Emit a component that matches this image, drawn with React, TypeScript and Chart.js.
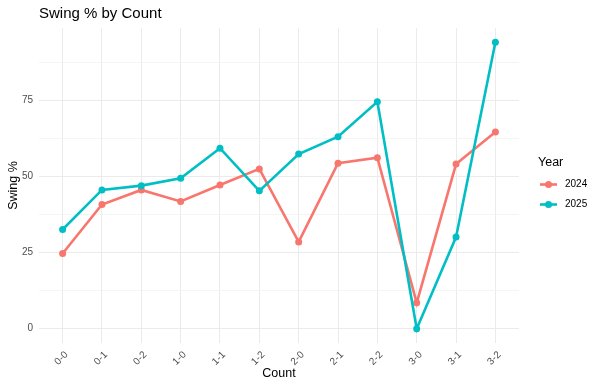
import React, { useEffect, useRef } from "react";
import { Chart, registerables } from "chart.js";

Chart.register(...registerables);

const categories = ["0-0", "0-1", "0-2", "1-0", "1-1", "1-2", "2-0", "2-1", "2-2", "3-0", "3-1", "3-2"];
const swing2024 = [24.7, 40.8, 45.6, 41.8, 47.2, 52.5, 28.5, 54.4, 56.2, 8.5, 54.1, 64.6];
const swing2025 = [32.6, 45.6, 47.0, 49.4, 59.3, 45.3, 57.4, 63.1, 74.6, 0, 30.1, 94.1];
const yMajorTicks = [0, 25, 50, 75];
const yMinorTicks = [12.5, 37.5, 62.5, 87.5];
const seriesNames = ["2024", "2025"];
const seriesColors = ["#F8766D", "#00BFC4"];

const FONT = "'Liberation Sans', Arial, sans-serif";

export default function App() {
  const ref = useRef<HTMLCanvasElement | null>(null);

  useEffect(() => {
    document.body.style.margin = "0";
    const canvas = ref.current;
    if (!canvas) return;

    const all = [...swing2024, ...swing2025];
    const dMin = Math.min(...all);
    const dMax = Math.max(...all);
    const span = dMax - dMin;
    const yMin = dMin - span * 0.05;
    const yMax = dMax + span * 0.05;

    const overlay = {
      id: "overlay",
      afterDraw(chart: any) {
        const c = chart.ctx;
        const a = chart.chartArea;
        c.save();
        c.fillStyle = "#000";
        c.textBaseline = "middle";
        // title
        c.font = `15px ${FONT}`;
        c.textAlign = "left";
        c.fillText("Swing % by Count", 39, 14);
        // x title
        c.font = `12.5px ${FONT}`;
        c.textAlign = "center";
        c.fillText("Count", (a.left + a.right) / 2, 374);
        // y title
        c.save();
        c.translate(13.5, (a.top + a.bottom) / 2);
        c.rotate(-Math.PI / 2);
        c.fillText("Swing %", 0, 0);
        c.restore();
        // legend
        c.textAlign = "left";
        c.font = `12.5px ${FONT}`;
        c.fillText("Year", 538, 163);
        c.font = `10px ${FONT}`;
        seriesNames.forEach((name, i) => {
          const y = 184.5 + i * 20;
          c.strokeStyle = seriesColors[i];
          c.lineWidth = 2.6;
          c.beginPath();
          c.moveTo(540, y);
          c.lineTo(557, y);
          c.stroke();
          c.fillStyle = seriesColors[i];
          c.beginPath();
          c.arc(548.5, y, 3.5, 0, Math.PI * 2);
          c.fill();
          c.fillStyle = "#000";
          c.fillText(name, 565, y);
        });
        c.restore();
      },
    };

    const chart = new Chart(canvas, {
      type: "line",
      data: {
        datasets: [
          {
            label: seriesNames[0],
            data: swing2024.map((v, i) => ({ x: i, y: v })),
            borderColor: seriesColors[0],
            backgroundColor: seriesColors[0],
            pointBackgroundColor: seriesColors[0],
            borderWidth: 2.6,
            pointRadius: 3.5,
            pointBorderWidth: 0,
            order: 1,
          },
          {
            label: seriesNames[1],
            data: swing2025.map((v, i) => ({ x: i, y: v })),
            borderColor: seriesColors[1],
            backgroundColor: seriesColors[1],
            pointBackgroundColor: seriesColors[1],
            borderWidth: 2.6,
            pointRadius: 3.5,
            pointBorderWidth: 0,
            order: 0,
          },
        ],
      },
      options: {
        animation: false,
        responsive: false,
        layout: { padding: { left: 0, top: 28, right: 81, bottom: 0 } },
        plugins: { legend: { display: false }, tooltip: { enabled: false }, title: { display: false } },
        scales: {
          x: {
            type: "linear",
            min: -0.6,
            max: categories.length - 1 + 0.6,
            afterBuildTicks: (scale: any) => {
              scale.ticks = categories.map((_, i) => ({ value: i }));
            },
            afterFit: (scale: any) => {
              scale.height = 46;
            },
            border: { display: false },
            grid: { color: "#EBEBEB", lineWidth: 1, drawTicks: false },
            ticks: {
              autoSkip: false,
              minRotation: 45,
              maxRotation: 45,
              padding: 6,
              labelOffset: 4,
              color: "#4D4D4D",
              font: { family: FONT, size: 10 },
              callback: (v: any) => categories[v as number] ?? "",
            },
          },
          y: {
            type: "linear",
            min: yMin,
            max: yMax,
            afterBuildTicks: (scale: any) => {
              scale.ticks = [...yMajorTicks, ...yMinorTicks].sort((p, q) => p - q).map((v) => ({ value: v }));
            },
            afterFit: (scale: any) => {
              scale.width = 39;
            },
            border: { display: false },
            grid: {
              drawTicks: false,
              color: (ctx: any) => (yMajorTicks.includes(ctx.tick?.value) ? "#EBEBEB" : "#F2F2F2"),
              lineWidth: (ctx: any) => (yMajorTicks.includes(ctx.tick?.value) ? 1 : 0.8),
            },
            ticks: {
              padding: 6,
              color: "#4D4D4D",
              font: { family: FONT, size: 10 },
              callback: (v: any) => (yMajorTicks.includes(v as number) ? String(v) : ""),
            },
          },
        },
      },
      plugins: [overlay],
    });

    return () => chart.destroy();
  }, []);

  return (
    <div style={{ width: 600, height: 389, background: "#fff" }}>
      <canvas ref={ref} width={600} height={389} style={{ display: "block" }} />
    </div>
  );
}
